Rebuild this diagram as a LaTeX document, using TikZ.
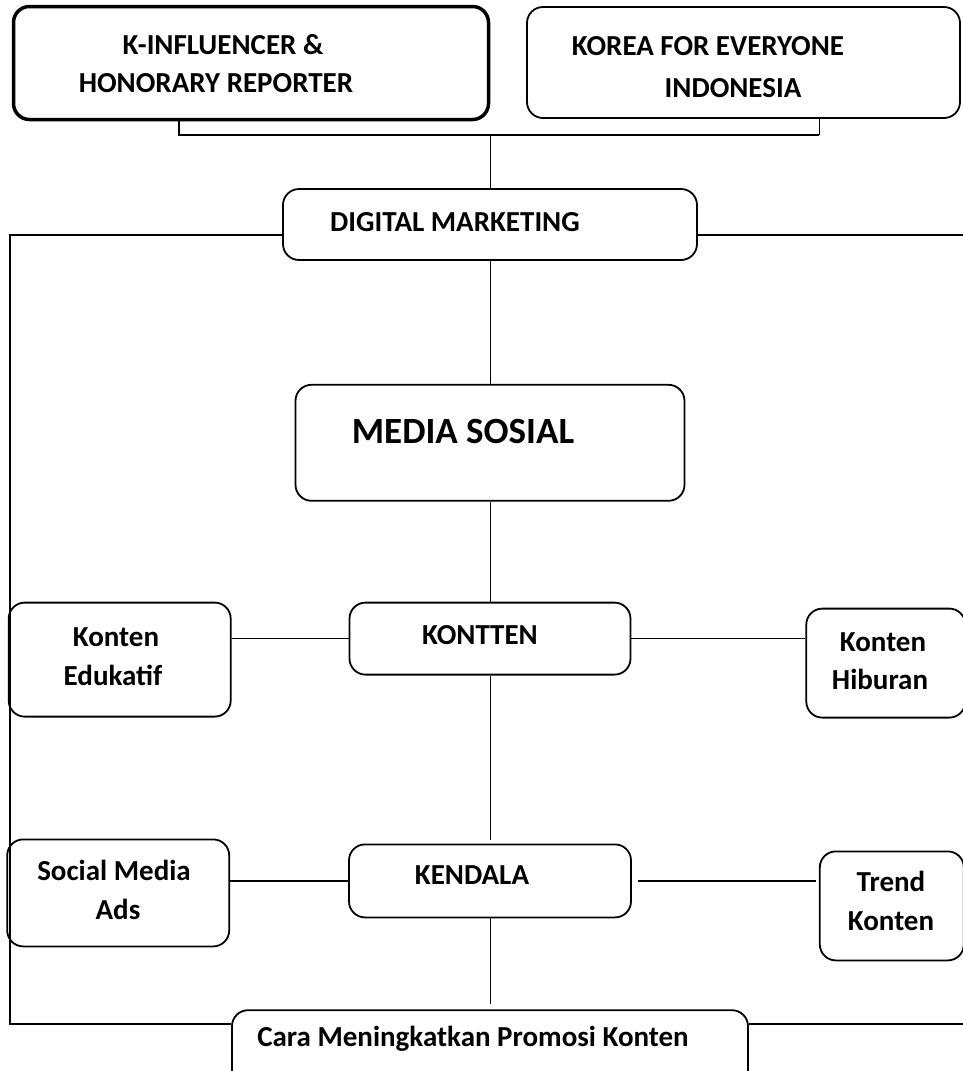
\documentclass[tikz,border=0pt]{standalone}
\usepackage{fontspec}
\setmainfont{Carlito}
\usetikzlibrary{positioning, calc}

\begin{document}
\begin{tikzpicture}[
    x=1pt, y=-1pt,
    node distance=100pt,
    font=\fontsize{29}{34}\selectfont\bfseries,
    box/.style={draw, rectangle, rounded corners=16pt, line width=1.8pt, inner sep=0pt},
    boldbox/.style={box, line width=3.5pt},
    lbl/.style={anchor=base, inner sep=0pt},
    biglbl/.style={lbl, font=\fontsize{37}{40}\selectfont\bfseries},
    link/.style={line width=1.6pt},
    stem/.style={line width=1pt}
  ]
    \useasboundingbox (0,0) rectangle (963,1071);
    \clip (0,0) rectangle (963,1071);
    % top row
    \node[boldbox, minimum width=475pt, minimum height=113pt] (kinf) at (251,63) {};
    \node[box, minimum width=433pt, minimum height=111pt] (korea) at (743.5,62.5) {};
    % middle column
    \node[box, minimum width=414pt, minimum height=71pt] (dm) at (490,224.5) {};
    \node[box, minimum width=389pt, minimum height=116pt, below=123pt of dm] (ms) {};
    \node[box, minimum width=281pt, minimum height=72pt, below=100pt of ms] (kontten) {};
    \node[box, minimum width=282pt, minimum height=73pt, below=168pt of kontten] (kendala) {};
    \node[box, minimum width=516pt, minimum height=97pt, below=91pt of kendala] (cara) {};
    % side boxes
    \node[box, minimum width=222pt, minimum height=114pt, left=117pt of kontten.north west, anchor=north east] (ke) {};
    \node[box, minimum width=159pt, minimum height=109pt, right=174pt of kontten.north east, anchor=north west, yshift=-6pt] (kh) {};
    \node[box, minimum width=222pt, minimum height=107pt, left=118pt of kendala.north west, anchor=north east, yshift=5pt] (sma) {};
    \node[box, minimum width=144pt, minimum height=109pt, right=187pt of kendala.north east, anchor=north west, yshift=-7pt] (tk) {};
    % texts
    \node[lbl] (kinf-1) at (223,54) {K-INFLUENCER \&};
    \node[lbl] (kinf-2) at (216,92) {HONORARY REPORTER};
    \node[lbl] (korea-1) at (708,55) {KOREA FOR EVERYONE};
    \node[lbl] (korea-2) at (733,97) {INDONESIA};
    \node[lbl] (dm-t) at (455,231) {DIGITAL MARKETING};
    \node[biglbl] (ms-t) at (463,443.5) {MEDIA SOSIAL};
    \node[lbl] (kontten-t) at (480,644) {KONTTEN};
    \node[lbl] (kendala-t) at (472,884) {KENDALA};
    \node[lbl] (ke-1) at (116,646) {Konten};
    \node[lbl] (ke-2) at (113,685) {Edukatif};
    \node[lbl] (kh-1) at (883,651) {Konten};
    \node[lbl] (kh-2) at (880,689) {Hiburan};
    \node[lbl] (sma-1) at (114,880) {Social Media};
    \node[lbl] (sma-2) at (118,919) {Ads};
    \node[lbl] (tk-1) at (891,891) {Trend};
    \node[lbl] (tk-2) at (891,930) {Konten};
    \node[lbl] (cara-t) at (473,1046) {Cara Meningkatkan Promosi Konten};
    % connectors
    \coordinate (brl) at (179,135);
    \coordinate (brr) at (819,135);
    \coordinate (rtop) at (963,235);
    \coordinate (lcorner) at (10,1024);
    \coordinate (rbot) at (963,1024);
    \draw[link, line width=2.2pt] (kinf.south -| brl) -- (brl) -- (brr);
    \draw[stem] (brr) -- (brr |- korea.south);
    \draw[stem] (dm.north) -- (dm.north |- brl);
    \draw[link] (dm.west |- rtop) -| (lcorner) -- (cara.west |- lcorner);
    \draw[link] (dm.east |- rtop) -- (rtop);
    \draw[link] (cara.east |- rbot) -- (rbot);
    \draw[stem] (dm) -- (ms);
    \draw[stem] (ms) -- (kontten);
    \draw[stem, shorten >=4pt] (kontten) -- (kendala);
    \draw[stem, shorten >=5pt] (kendala) -- (cara);
    \draw[link] (ke.east |- kontten.west) -- (kontten.west);
    \draw[link] (kontten.east) -- (kh.west |- kontten.east);
    \draw[link] (sma.east |- kendala.west) -- (kendala.west);
    \draw[link, line width=2pt, shorten <=6pt, shorten >=3pt] (kendala.east) -- (tk.west |- kendala.east);
  \end{tikzpicture}
\end{document}
